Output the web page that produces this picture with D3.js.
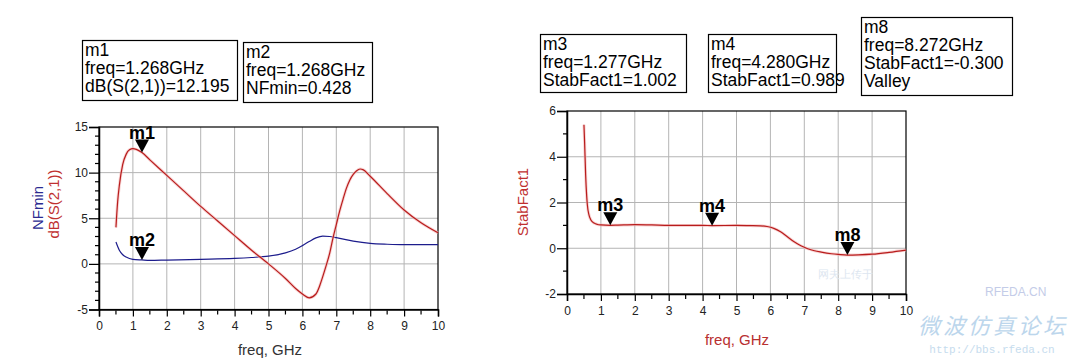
<!DOCTYPE html>
<html><head><meta charset="utf-8">
<script src="https://cdn.jsdelivr.net/npm/d3@7"></script>
<style>
html,body{margin:0;padding:0;background:#fff;}
svg{display:block;font-family:"Liberation Sans",Arial,sans-serif;}
</style></head>
<body>
<svg id="c" width="1072" height="358"></svg>
<script>
// ---------- data ----------
const freqS21 = [0.5,0.55,0.6,0.7,0.8,0.9,1.0,1.1,1.268,1.5,2,2.5,3,3.5,4,4.5,5,5.5,5.8,6.0,6.2,6.4,6.5,6.6,6.7,6.8,6.9,7.0,7.1,7.2,7.3,7.4,7.5,7.6,7.7,7.8,8.0,8.5,9,9.5,10];
const dbS21   = [4.0,6.8,8.6,10.9,12.0,12.5,12.62,12.55,12.195,11.4,9.7,8.0,6.3,4.7,3.1,1.5,0.0,-1.6,-2.7,-3.3,-3.72,-3.3,-2.5,-1.4,-0.2,1.1,2.8,4.3,5.8,7.1,8.3,9.2,9.8,10.2,10.4,10.3,9.6,7.7,5.9,4.5,3.4];
const freqNF  = [0.5,0.6,0.7,0.8,1.0,1.268,1.5,2,3,4,4.5,5,5.5,5.8,6.0,6.2,6.4,6.6,6.8,7.0,7.5,8,8.5,9,10];
const nfMin   = [2.4,1.5,1.0,0.75,0.5,0.428,0.38,0.42,0.5,0.6,0.7,0.85,1.2,1.6,2.0,2.45,2.85,3.05,3.0,2.88,2.5,2.25,2.15,2.1,2.1];
const freqK   = [0.5,0.52,0.55,0.58,0.6,0.65,0.7,0.8,0.9,1.0,1.277,1.5,2,2.5,3,3.5,4,4.28,5,5.4,5.7,5.9,6.1,6.3,6.5,6.7,6.9,7.1,7.3,7.5,7.8,8.0,8.272,8.6,9,9.5,10];
const stabK   = [5.4,4.6,3.2,2.3,1.9,1.45,1.25,1.1,1.04,1.02,1.002,1.01,1.03,1.02,1.0,1.0,1.0,0.989,1.0,0.99,0.98,0.95,0.87,0.72,0.5,0.28,0.11,-0.02,-0.11,-0.17,-0.24,-0.27,-0.3,-0.29,-0.26,-0.18,-0.08];

const xTicks = [0,1,2,3,4,5,6,7,8,9,10];
const yTicksL = [-5,0,5,10,15];
const yTicksR = [-2,0,2,4,6];

const markerNamesL = ["m1","m2"];
const markerFreqL  = [1.268,1.268];
const markerValL   = [12.195,0.428];
const markerNamesR = ["m3","m4","m8"];
const markerFreqR  = [1.277,4.280,8.272];
const markerValR   = [1.002,0.989,-0.300];

const boxLines = [
  ["m1","freq=1.268GHz","dB(S(2,1))=12.195"],
  ["m2","freq=1.268GHz","NFmin=0.428"],
  ["m3","freq=1.277GHz","StabFact1=1.002"],
  ["m4","freq=4.280GHz","StabFact1=0.989"],
  ["m8","freq=8.272GHz","StabFact1=-0.300","Valley"]
];

// ---------- drawing ----------
const svg = d3.select("#c");
svg.append("rect").attr("width",1072).attr("height",358).attr("fill","#fff");

const RED = "#b81c1c", BLUE = "#1c1c8c";
const fmt = d => String(d);

function panel(o){
  const x = d3.scaleLinear().domain([0,10]).range([o.x0,o.x1]);
  const y = d3.scaleLinear().domain(o.ydom).range([o.y1,o.y0]);
  const g = svg.append("g");
  g.append("g").selectAll("line").data(xTicks.slice(1,-1)).join("line")
    .attr("x1",d=>x(d)).attr("x2",d=>x(d)).attr("y1",o.y0).attr("y2",o.y1)
    .attr("stroke","#b4b4b4").attr("stroke-width",1);
  g.append("g").selectAll("line").data(o.yticks.slice(1,-1)).join("line")
    .attr("x1",o.x0).attr("x2",o.x1).attr("y1",d=>y(d)).attr("y2",d=>y(d))
    .attr("stroke","#b4b4b4").attr("stroke-width",1);
  g.append("rect").attr("x",o.x0).attr("y",o.y0).attr("width",o.x1-o.x0).attr("height",o.y1-o.y0)
    .attr("fill","none").attr("stroke","#000").attr("stroke-width",1.2);
  const xa = g.append("g").attr("transform",`translate(0,${o.y1})`)
    .call(d3.axisBottom(x).tickValues(xTicks).tickSize(7).tickPadding(5).tickFormat(fmt));
  xa.select(".domain").attr("stroke","#000").attr("stroke-width",1.5);
  xa.selectAll(".tick line").attr("stroke","#000").attr("stroke-width",1.2);
  xa.selectAll("text").attr("font-size",12).attr("fill","#222").attr("font-family","Liberation Sans, Arial");
  g.append("g").selectAll("line").data(d3.range(0.5,10,1)).join("line")
    .attr("x1",d=>x(d)).attr("x2",d=>x(d)).attr("y1",o.y1+1).attr("y2",o.y1+5)
    .attr("stroke","#000").attr("stroke-width",1.2);
  const ya = g.append("g").attr("transform",`translate(${o.x0},0)`)
    .call(d3.axisLeft(y).tickValues(o.yticks).tickSize(10).tickPadding(1).tickFormat(fmt));
  ya.select(".domain").attr("stroke","#000").attr("stroke-width",1.5);
  ya.selectAll(".tick line").attr("stroke","#000").attr("stroke-width",1.2);
  ya.selectAll("text").attr("font-size",12).attr("fill","#222").attr("font-family","Liberation Sans, Arial");
  g.append("g").selectAll("line").data(o.yminor).join("line")
    .attr("x1",o.x0-4).attr("x2",o.x0).attr("y1",d=>y(d)).attr("y2",d=>y(d))
    .attr("stroke","#000").attr("stroke-width",1.2);
  const line = d3.line().x(d=>x(d[0])).y(d=>y(d[1])).curve(d3.curveMonotoneX);
  o.series.forEach(s=>{
    const pts = s.f.map((f,i)=>[f,s.v[i]]);
    if (s.color===RED) g.append("path").attr("d",line(pts)).attr("fill","none").attr("stroke","#f3b8b8").attr("stroke-width",3).attr("opacity",0.6);
    g.append("path").attr("d",line(pts)).attr("fill","none").attr("stroke",s.color).attr("stroke-width",1.2);
  });
  o.mNames.forEach((n,i)=>{
    const px = x(o.mFreq[i]), py = y(o.mVal[i]);
    g.append("path").attr("d",`M${px-7},${py-13}L${px+7},${py-13}L${px},${py}Z`).attr("fill","#000");
    g.append("text").attr("x",px).attr("y",py-14).attr("text-anchor","middle")
      .attr("font-size",18).attr("font-weight","bold").attr("fill","#000").text(n);
  });
  return {x,y};
}

panel({x0:99,x1:438,y0:127,y1:309.5,ydom:[-5,15],yticks:yTicksL,yminor:d3.range(-4,15,1).filter(v=>v%5!==0),
  series:[{f:freqNF,v:nfMin,color:BLUE},{f:freqS21,v:dbS21,color:RED}],
  mNames:markerNamesL,mFreq:markerFreqL,mVal:markerValL});
panel({x0:567,x1:906,y0:111,y1:294,ydom:[-2,6],yticks:yTicksR,yminor:d3.range(-1,6,2),
  series:[{f:freqK,v:stabK,color:RED}],
  mNames:markerNamesR,mFreq:markerFreqR,mVal:markerValR});

// axis titles
svg.append("text").attr("x",270).attr("y",355).attr("text-anchor","middle").attr("font-size",15).attr("fill","#333").text("freq, GHz");
svg.append("text").attr("x",737).attr("y",345).attr("text-anchor","middle").attr("font-size",15).attr("fill","#b83030").text("freq, GHz");
svg.append("text").attr("transform","translate(43,208) rotate(-90)").attr("text-anchor","middle").attr("font-size",15).attr("fill","#2a2a90").text("NFmin");
svg.append("text").attr("transform","translate(59,204) rotate(-90)").attr("text-anchor","middle").attr("font-size",15).attr("fill","#c03030").text("dB(S(2,1))");
svg.append("text").attr("transform","translate(528,202) rotate(-90)").attr("text-anchor","middle").attr("font-size",15).attr("fill","#c03030").text("StabFact1");

// marker readout boxes
const boxPos = [[82,40,155,60],[243,42,129,60],[540,34,146,58],[708,34,128,58],[861,17,151,78]];
boxLines.forEach((lines,i)=>{
  const [bx,by,bw,bh] = boxPos[i];
  svg.append("rect").attr("x",bx+0.5).attr("y",by+0.5).attr("width",bw).attr("height",bh)
    .attr("fill","#fff").attr("stroke","#000").attr("stroke-width",1.2);
  lines.forEach((t,j)=>{
    svg.append("text").attr("x",bx+3).attr("y",by+16+j*18).attr("font-size",17.5).attr("fill","#000").text(t);
  });
});

// watermark
svg.append("text").attr("x",818).attr("y",278).attr("font-size",11).attr("fill","#dde6f0").text("网夫上传于");
svg.append("text").attr("x",985).attr("y",296).attr("font-size",12).attr("fill","#c4cce8").text("RFEDA.CN");
svg.append("text").attr("x",918).attr("y",334).attr("font-size",22).attr("font-style","italic")
  .attr("letter-spacing",3).attr("fill","#bcd6ec").attr("font-family","Noto Sans CJK SC").text("微波仿真论坛");
svg.append("text").attr("x",992).attr("y",353).attr("text-anchor","middle").attr("font-size",11)
  .attr("fill","#c6dcee").attr("font-family","Liberation Mono, DejaVu Sans Mono, monospace").text("http://bbs.rfeda.cn");
</script>
</body></html>
